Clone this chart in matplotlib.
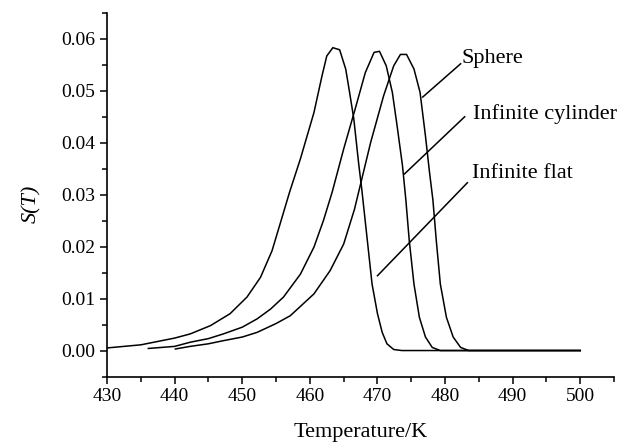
import numpy as np
import matplotlib
matplotlib.use('Agg')
import matplotlib.pyplot as plt
from matplotlib.ticker import MultipleLocator

plt.rcParams['font.family'] = ['Liberation Serif', 'DejaVu Serif']

# infinite flat (leftmost curve)
t_flat = [430, 435, 440, 442.3, 445.3, 448.2, 450.7, 452.7, 454.4, 455.6, 457.0, 458.6,
          460.6, 461.8, 462.5, 463.4, 464.4, 465.3, 465.8, 466.5, 467.2, 467.7, 468.5,
          469.2, 470.0, 470.7, 471.4, 472.4, 473.6, 500]
s_flat = [0.0005, 0.0011, 0.0024, 0.0032, 0.0048, 0.0071, 0.0103, 0.0141, 0.0192, 0.0244,
          0.0305, 0.0369, 0.0458, 0.0529, 0.0567, 0.0583, 0.0579, 0.0542, 0.0503, 0.0446,
          0.0362, 0.0308, 0.0212, 0.0128, 0.0071, 0.0035, 0.0013, 0.0002, 0.0, 0.0]

# infinite cylinder (middle curve)
t_cyl = [436.1, 440, 442.3, 445, 447.2, 450, 452.2, 454.2, 456.1, 458.6, 460.6, 462.0,
         463.3, 465.0, 466.7, 468.2, 469.5, 470.3, 471.3, 472.2, 472.9, 473.7, 474.2,
         474.7, 475.4, 476.2, 477.1, 478.1, 479.3, 500]
s_cyl = [0.0004, 0.0008, 0.0016, 0.0023, 0.0032, 0.0045, 0.0061, 0.0080, 0.0103, 0.0147,
         0.0199, 0.0250, 0.0305, 0.0388, 0.0465, 0.0535, 0.0574, 0.0576, 0.0548, 0.0497,
         0.0433, 0.0356, 0.0290, 0.0212, 0.0128, 0.0064, 0.0026, 0.0006, 0.0, 0.0]

# sphere (rightmost curve)
t_sph = [440.1, 442.3, 445, 447.2, 450, 452.2, 455, 457.1, 460.6, 463.0, 465.0, 466.6,
         469.0, 470.9, 472.4, 473.4, 474.3, 475.4, 476.3, 477.1, 477.7, 478.2, 478.7,
         479.3, 480.2, 481.2, 482.3, 483.5, 500]
s_sph = [0.0003, 0.0008, 0.0013, 0.0019, 0.0026, 0.0035, 0.0052, 0.0067, 0.0109, 0.0154,
         0.0205, 0.0272, 0.0401, 0.0490, 0.0548, 0.0570, 0.0570, 0.0542, 0.0497, 0.0413,
         0.0343, 0.0290, 0.0212, 0.0128, 0.0064, 0.0026, 0.0006, 0.0, 0.0]

labels = ['Sphere', 'Infinite cylinder', 'Infinite flat']
# leader line start (on curve) and end (near text), in data units
lead_start = [(476.7, 0.0488), (474.0, 0.0340), (470.0, 0.0144)]
lead_end = [(482.3, 0.0552), (482.9, 0.0450), (483.3, 0.0323)]
text_pos = [(482.5, 0.0562), (484.1, 0.0456), (484.0, 0.0340)]

fig = plt.figure(figsize=(6.19, 4.44), dpi=100)
ax = fig.add_axes([0.173, 0.152, 0.819, 0.819])

for t, s in [(t_flat, s_flat), (t_cyl, s_cyl), (t_sph, s_sph)]:
    ax.plot(t, s, color='black', linewidth=1.1)

for lab, p0, p1, tp in zip(labels, lead_start, lead_end, text_pos):
    ax.plot([p0[0], p1[0]], [p0[1], p1[1]], color='black', linewidth=1.1)
    ax.text(tp[0], tp[1], lab, fontsize=16, ha='left', va='center')

ax.set_xlim(430, 505)
ax.set_ylim(-0.005, 0.065)
ax.xaxis.set_minor_locator(MultipleLocator(5))
ax.yaxis.set_minor_locator(MultipleLocator(0.005))
ax.set_xticks(np.arange(430, 501, 10))
ax.set_yticks(np.arange(0, 0.0601, 0.01))
ax.yaxis.set_major_formatter(plt.FormatStrFormatter('%.2f'))

ax.spines['top'].set_visible(False)
ax.spines['right'].set_visible(False)
ax.spines['left'].set_linewidth(1.2)
ax.spines['bottom'].set_linewidth(1.2)
ax.tick_params(which='major', direction='out', length=5, width=1.1, labelsize=14)
ax.tick_params(which='minor', direction='out', length=3.5, width=1.1)

ax.set_xlabel('Temperature/K', fontsize=16, labelpad=13)
ax.set_ylabel('S(T)', fontsize=16, style='italic')
ax.yaxis.set_label_coords(-0.13, 0.475)

fig.savefig('out.png', dpi=100)
